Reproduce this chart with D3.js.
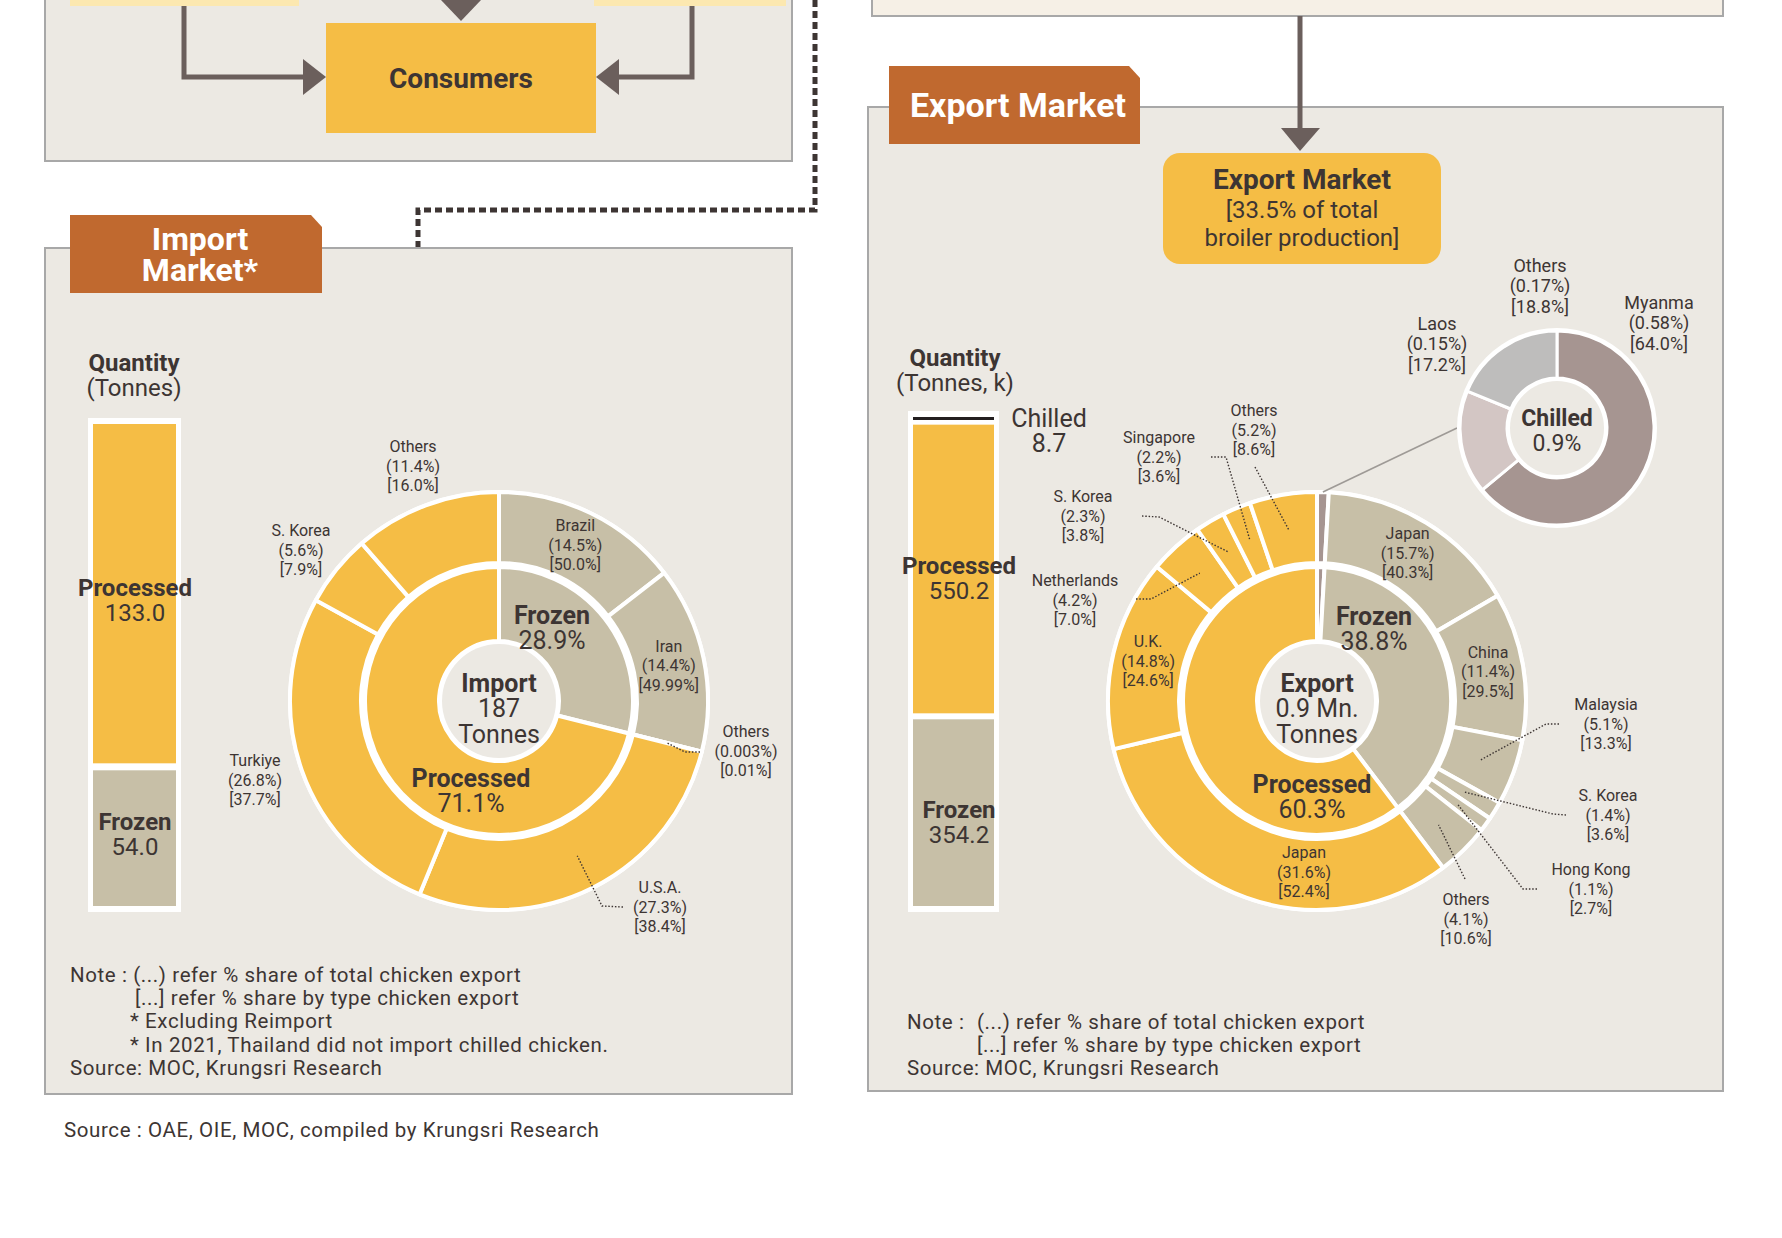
<!DOCTYPE html>
<html>
<head>
<meta charset="utf-8">
<script src="https://cdn.jsdelivr.net/npm/d3@7"></script>
<style>
  body { margin: 0; background: #fff; }
  svg { display: block; }
  text { font-family: Roboto, "Liberation Sans", sans-serif; fill: #3d3533; }
</style>
</head>
<body>
<svg id="chart" width="1782" height="1238"></svg>
<script>
// ---- data ----
// import (tonnes), bar is stacked bottom -> top
var importBarTypes = ["Frozen", "Processed"];
var importTonnes = [54.0, 133.0];
var importRingTypes = ["Frozen", "Processed"];
var importRingShare = [28.9, 71.1];
var importCountries = ["Brazil", "Iran", "Others", "U.S.A.", "Turkiye", "S. Korea", "Others"];
var importCountryType = ["Frozen", "Frozen", "Frozen", "Processed", "Processed", "Processed", "Processed"];
var importCountryShare = [14.5, 14.4, 0.003, 27.3, 26.8, 5.6, 11.4];
var importCountryTypeShare = [50.0, 49.99, 0.01, 38.4, 37.7, 7.9, 16.0];

// export (tonnes, k)
var exportBarTypes = ["Frozen", "Processed", "Chilled"];
var exportTonnesK = [354.2, 550.2, 8.7];
var exportRingTypes = ["Chilled", "Frozen", "Processed"];
var exportRingShare = [0.9, 38.8, 60.3];
var exportCountries = ["Chilled", "Japan", "China", "Malaysia", "S. Korea", "Hong Kong", "Others",
                       "Japan", "U.K.", "Netherlands", "S. Korea", "Singapore", "Others"];
var exportCountryType = ["Chilled", "Frozen", "Frozen", "Frozen", "Frozen", "Frozen", "Frozen",
                         "Processed", "Processed", "Processed", "Processed", "Processed", "Processed"];
var exportCountryShare = [0.9, 15.7, 11.4, 5.1, 1.4, 1.1, 4.1, 31.6, 14.8, 4.2, 2.3, 2.2, 5.2];
var exportCountryTypeShare = [null, 40.3, 29.5, 13.3, 3.6, 2.7, 10.6, 52.4, 24.6, 7.0, 3.8, 3.6, 8.6];

// chilled export
var chilledCountries = ["Myanma", "Laos", "Others"];
var chilledShare = [0.58, 0.15, 0.17];
var chilledTypeShare = [64.0, 17.2, 18.8];

var importNotes = ["Note : (...) refer % share of total chicken export",
                   "[...] refer % share by type chicken export",
                   "* Excluding Reimport",
                   "* In 2021, Thailand did not import chilled chicken.",
                   "Source: MOC, Krungsri Research"];
var exportNotes = ["(...) refer % share of total chicken export",
                   "[...] refer % share by type chicken export",
                   "Source: MOC, Krungsri Research"];

// ---- styles ----
var C = {
  yellow: "#F5BD45", frozen: "#C7BFA7", chilled: "#A69591", laos: "#D3C6C4", grey: "#BEBDBC",
  panel: "#ECE9E3", border: "#A8A8A8", tab: "#C0692F", text: "#3D3533", arrow: "#6B5F5C"
};
var typeColor = { Frozen: C.frozen, Processed: C.yellow, Chilled: C.chilled };
var fmt = function (v) { return Number.isInteger(v) ? v.toFixed(1) : String(v); };

var svg = d3.select("#chart");

function panel(x, y, w, h, fill) {
  svg.append("rect").attr("x", x).attr("y", y).attr("width", w).attr("height", h)
    .attr("fill", fill).attr("stroke", C.border).attr("stroke-width", 2);
}

function text(x, y, lines, size, opts) {
  opts = opts || {};
  var lh = opts.lh || size * 1.02;
  var t = svg.append("text")
    .attr("text-anchor", opts.anchor || "middle")
    .attr("font-size", size)
    .attr("font-family", opts.family || null)
    .attr("font-weight", opts.weight || null)
    .style("fill", opts.fill || C.text);
  lines.forEach(function (s, i) {
    var line = t.append("tspan")
      .attr("x", x)
      .attr("y", y + (i - (lines.length - 1) / 2) * lh + size * 0.36)
      .text(s);
    if (opts.boldFirst && i == 0) line.attr("font-weight", 700);
  });
  return t;
}

function note(x, y, s) {
  svg.append("text").attr("x", x).attr("y", y)
    .attr("font-size", 20.5).attr("letter-spacing", 0.6).text(s);
}

// ---- flow chart pieces at the top ----
panel(45, -10, 747, 171, C.panel);
svg.append("rect").attr("x", 70).attr("y", -10).attr("width", 229).attr("height", 16).attr("fill", "#FCE8B0");
svg.append("rect").attr("x", 594).attr("y", -10).attr("width", 192).attr("height", 16).attr("fill", "#FCE8B0");
svg.append("path").attr("d", "M441,0H481L461,21Z").attr("fill", C.arrow);
svg.append("rect").attr("x", 326).attr("y", 23).attr("width", 270).attr("height", 110).attr("fill", C.yellow);
text(461, 78, ["Consumers"], 28, { weight: 700 });

svg.append("path").attr("d", "M184,6V77H306").attr("fill", "none")
  .attr("stroke", C.arrow).attr("stroke-width", 5);
svg.append("path").attr("d", "M303,59L326,77L303,95Z").attr("fill", C.arrow);
svg.append("path").attr("d", "M692,6V77H616").attr("fill", "none")
  .attr("stroke", C.arrow).attr("stroke-width", 5);
svg.append("path").attr("d", "M619,59L596,77L619,95Z").attr("fill", C.arrow);

// dotted link to the import panel
svg.append("path").attr("d", "M815,0V210H418V248").attr("fill", "none")
  .attr("stroke", C.text).attr("stroke-width", 5).attr("stroke-dasharray", "7,4");

panel(872, -10, 851, 26, "#F6F0E6");

// ---- panels ----
panel(45, 248, 747, 846, C.panel);
panel(868, 107, 855, 984, C.panel);

// arrow from production down to the export market box
svg.append("line").attr("x1", 1300).attr("x2", 1300).attr("y1", 16).attr("y2", 132)
  .attr("stroke", C.arrow).attr("stroke-width", 5);
svg.append("path").attr("d", "M1281,128H1320L1300,151Z").attr("fill", C.arrow);

function tab(x, y, w, h) {
  svg.append("path")
    .attr("d", "M" + x + "," + y + "H" + (x + w - 11) + "L" + (x + w) + "," + (y + 12) + "V" + (y + h) + "H" + x + "Z")
    .attr("fill", C.tab);
}
tab(70, 215, 252, 78);
text(200, 254, ["Import", "Market*"], 32, { weight: 700, fill: "#fff", lh: 31 });
tab(889, 66, 251, 78);
text(1018, 105, ["Export Market"], 34, { weight: 700, fill: "#fff" });

svg.append("rect").attr("x", 1163).attr("y", 153).attr("width", 278).attr("height", 111)
  .attr("rx", 17).attr("fill", C.yellow);
text(1302, 179, ["Export Market"], 28, { weight: 700 });
text(1302, 223, ["[33.5% of total", "broiler production]"], 24, { lh: 28 });

// ---- stacked quantity bars ----
function stackBar(x, yTop, yBottom, width, types, values, gap) {
  var y = d3.scaleLinear().domain([0, d3.sum(values)]).range([yBottom, yTop]);
  svg.append("rect").attr("x", x - 5).attr("y", yTop - 6)
    .attr("width", width + 10).attr("height", yBottom - yTop + 12).attr("fill", "#fff");
  var cum = 0, segs = [];
  values.forEach(function (v, i) {
    var y0 = y(cum), y1 = y(cum + v);
    cum += v;
    var top = y1 + (i < values.length - 1 ? gap : 0);
    var bottom = y0 - (i > 0 ? gap : 0);
    if (bottom - top < 3) bottom = top + 3;
    var col = types[i] == "Chilled" ? "#231F20" : typeColor[types[i]];
    svg.append("rect").attr("x", x).attr("y", top).attr("width", width)
      .attr("height", bottom - top).attr("fill", col);
    segs.push({ top: top, bottom: bottom, mid: (top + bottom) / 2 });
  });
  return segs;
}

text(134, 375, ["Quantity", "(Tonnes)"], 24, { boldFirst: true, lh: 25 });
var impSegs = stackBar(93, 424, 906, 83, importBarTypes, importTonnes, 3.5);
var impNudge = [-4, 6];
importBarTypes.forEach(function (t, i) {
  text(135, impSegs[i].mid + impNudge[i], [t, importTonnes[i].toFixed(1)], 24, { boldFirst: true, lh: 25 });
});

text(955, 370, ["Quantity", "(Tonnes, k)"], 24, { boldFirst: true, lh: 25 });
var expSegs = stackBar(913, 417, 906, 81, exportBarTypes, exportTonnesK, 3);
exportBarTypes.forEach(function (t, i) {
  if (t == "Chilled") {
    text(1049, expSegs[i].top + 13, [t, exportTonnesK[i].toFixed(1)], 25, { lh: 25 });
  } else {
    text(959, expSegs[i].mid + 9, [t, exportTonnesK[i].toFixed(1)], 24, { boldFirst: true, lh: 25 });
  }
});

// ---- donuts ----
var pie = d3.pie().sort(null).value(function (d) { return d; });
var arcInner = d3.arc().innerRadius(60).outerRadius(134);
var arcOuter = d3.arc().innerRadius(138).outerRadius(209);
var leader = d3.line();

function ring(g, values, colors, arc, sw) {
  var arcs = pie(values);
  g.selectAll(null).data(arcs).enter().append("path")
    .attr("d", arc)
    .attr("fill", function (d, i) { return colors[i]; })
    .attr("stroke", "#fff").attr("stroke-width", sw).attr("stroke-linejoin", "round");
  return arcs;
}

function outerLabels(cx, cy, arcs, names, shares, typeShares, spots) {
  arcs.forEach(function (a, i) {
    if (typeShares[i] == null) return;
    var c = arcOuter.centroid(a);
    var s = spots[i];
    var at = s ? s.at : c;
    text(cx + at[0], cy + at[1],
      [names[i], "(" + fmt(shares[i]) + "%)", "[" + fmt(typeShares[i]) + "%]"], 16, { lh: 19.5 });
    if (s && s.lead) {
      var pts = s.lead.concat([c]).map(function (p) { return [cx + p[0], cy + p[1]]; });
      svg.append("path").attr("d", leader(pts)).attr("fill", "none")
        .attr("stroke", C.text).attr("stroke-width", 1.4).attr("stroke-dasharray", "1.5,1.8");
    }
  });
}

function donut(cx, cy, ringTypes, ringShare, cTypes, cShare) {
  var g = svg.append("g").attr("transform", "translate(" + cx + "," + cy + ")");
  g.append("circle").attr("r", 211).attr("fill", "#fff");
  var inner = ring(g, ringShare, ringTypes.map(function (t) { return typeColor[t]; }), arcInner, 4);
  var outer = ring(g, cShare, cTypes.map(function (t) { return typeColor[t]; }), arcOuter, 4);
  g.append("circle").attr("r", 57).attr("fill", C.panel);
  return { inner: inner, outer: outer };
}

// import donut
var ix = 499, iy = 701;
var imp = donut(ix, iy, importRingTypes, importRingShare, importCountryType, importCountryShare);
// label spots relative to the donut centre (leaders end on the slice centroid)
var importSpots = {
  2: { at: [247, 50], lead: [[201, 51], [186, 51]] },
  3: { at: [161, 206], lead: [[124, 206], [103, 205]] },
  4: { at: [-244, 79] },
  5: { at: [-198, -151] },
  6: { at: [-86, -235] }
};
outerLabels(ix, iy, imp.outer, importCountries, importCountryShare, importCountryTypeShare, importSpots);
text(ix + 53, iy - 74, [importRingTypes[0], importRingShare[0] + "%"], 25, { boldFirst: true, lh: 25 });
text(ix - 28, iy + 89, [importRingTypes[1], importRingShare[1] + "%"], 25, { boldFirst: true, lh: 25 });
text(ix, iy + 7, ["Import", String(d3.sum(importTonnes)), "Tonnes"], 25, { boldFirst: true, lh: 25.5 });

// export donut
var ex = 1317, ey = 701;
var exp = donut(ex, ey, exportRingTypes, exportRingShare, exportCountryType, exportCountryShare);
var exportSpots = {
  3: { at: [289, 23], lead: [[242, 23], [229, 23]] },
  4: { at: [291, 114], lead: [[249, 114], [236, 113]] },
  5: { at: [274, 188], lead: [[220, 188], [206, 188]] },
  6: { at: [149, 218], lead: [[148, 178]] },
  7: { at: [-13, 171] },
  9: { at: [-242, -101], lead: [[-181, -102], [-166, -102]] },
  10: { at: [-234, -185], lead: [[-175, -185], [-158, -184]] },
  11: { at: [-158, -244], lead: [[-106, -244], [-91, -244]] },
  12: { at: [-63, -271], lead: [[-62, -234]] }
};
outerLabels(ex, ey, exp.outer, exportCountries, exportCountryShare, exportCountryTypeShare, exportSpots);
text(ex + 57, ey - 73, [exportRingTypes[1], exportRingShare[1] + "%"], 25, { boldFirst: true, lh: 25 });
text(ex - 5, ey + 95, [exportRingTypes[2], exportRingShare[2] + "%"], 25, { boldFirst: true, lh: 25 });
text(ex, ey + 7, ["Export", "0.9 Mn.", "Tonnes"], 25, { boldFirst: true, lh: 25.5 });

// chilled breakdown donut
var hx = 1557, hy = 428;
var a0 = exp.outer[0], am = (a0.startAngle + a0.endAngle) / 2;
svg.append("line")
  .attr("x1", ex + 209 * Math.sin(am)).attr("y1", ey - 209 * Math.cos(am))
  .attr("x2", hx - 100).attr("y2", hy)
  .attr("stroke", "#9E9A96").attr("stroke-width", 1.6);

var hg = svg.append("g").attr("transform", "translate(" + hx + "," + hy + ")");
hg.append("circle").attr("r", 100).attr("fill", "#fff");
var chArcs = pie(chilledTypeShare);
var chArc = d3.arc().innerRadius(50).outerRadius(97);
hg.selectAll(null).data(chArcs).enter().append("path")
  .attr("d", chArc)
  .attr("fill", function (d, i) { return [C.chilled, C.laos, C.grey][i]; })
  .attr("stroke", "#fff").attr("stroke-width", 3);
hg.append("circle").attr("r", 47).attr("fill", C.panel);

var chSpots = [[102, -105], [-120, -84], [-17, -142]];
chilledCountries.forEach(function (n, i) {
  text(hx + chSpots[i][0], hy + chSpots[i][1],
    [n, "(" + fmt(chilledShare[i]) + "%)", "[" + fmt(chilledTypeShare[i]) + "%]"], 18,
    { lh: 20.5, family: "'Open Sans', sans-serif" });
});
text(hx, hy + 2, ["Chilled", exportRingShare[0] + "%"], 23,
  { boldFirst: true, lh: 25, family: "'Open Sans', sans-serif" });

// ---- notes ----
importNotes.forEach(function (s, i) {
  note([70, 135, 130, 130, 70][i], 982 + i * 23.2, s);
});
note(907, 1029, "Note :");
exportNotes.forEach(function (s, i) {
  note([977, 977, 907][i], 1029 + i * 23.2, s);
});
note(64, 1137, "Source : OAE, OIE, MOC, compiled by Krungsri Research");
</script>
</body>
</html>
